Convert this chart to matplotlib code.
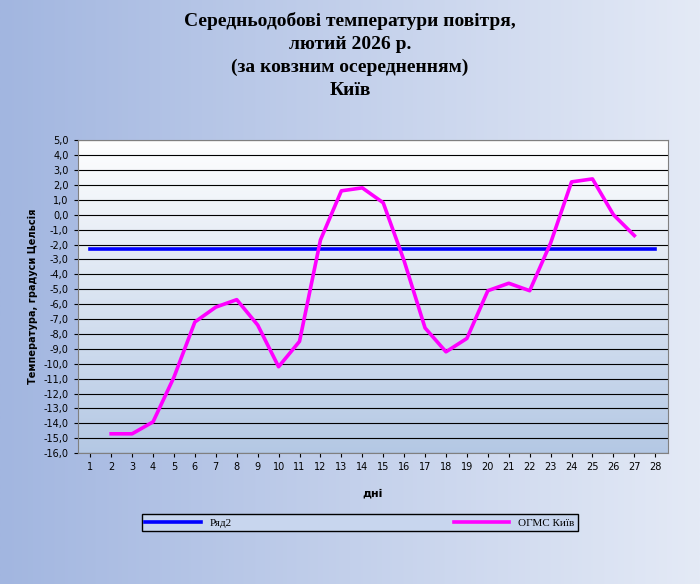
import numpy as np
import matplotlib
matplotlib.use("Agg")
import matplotlib.pyplot as plt
from matplotlib.colors import LinearSegmentedColormap

plt.rcParams['font.family'] = ['Liberation Serif', 'DejaVu Serif']

days = list(range(1, 29))
ryad2 = [-2.3] * 28
kyiv_days = list(range(2, 28))
kyiv = [-14.7, -14.7, -13.9, -10.9, -7.2, -6.2, -5.7, -7.4, -10.2, -8.5,
        -1.7, 1.6, 1.8, 0.8, -3.1, -7.6, -9.2, -8.3, -5.1, -4.6,
        -5.1, -1.9, 2.2, 2.4, 0.0, -1.4]
yticks = np.arange(-16, 5.01, 1.0)

fig = plt.figure(figsize=(7, 5.84), dpi=100)

# background gradient
bg = fig.add_axes([0, 0, 1, 1], zorder=-10)
grad = np.linspace(0, 1, 256).reshape(1, -1)
bg_cmap = LinearSegmentedColormap.from_list("bg", ["#a2b6e0", "#e4eaf6"])
bg.imshow(grad, aspect="auto", cmap=bg_cmap, extent=[0, 1, 0, 1])
bg.axis("off")

ax = fig.add_axes([0.111, 0.224, 0.843, 0.536])
pa_cmap = LinearSegmentedColormap.from_list("pa", ["#ffffff", "#b4c8e4"])
ax.imshow(np.linspace(0, 1, 256).reshape(-1, 1), aspect="auto", cmap=pa_cmap,
          extent=[0.4, 28.6, -16, 5], zorder=0)

for y in yticks:
    ax.axhline(y, color="black", linewidth=0.8, zorder=1)

ax.plot(days, ryad2, color="#0000ff", linewidth=2.6, label="Ряд2", zorder=3)
ax.plot(kyiv_days, kyiv, color="#ff00ff", linewidth=2.6, label="ОГМС Київ", zorder=3)

ax.set_xlim(0.4, 28.6)
ax.set_ylim(-16, 5)
ax.set_xticks(days)
ax.set_yticks(yticks)
ax.set_yticklabels([f"{v:.1f}".replace(".", ",") for v in yticks],
                   family="DejaVu Sans", fontsize=7)
ax.set_xticklabels(days, family="DejaVu Sans", fontsize=7)
ax.tick_params(length=3)
for s in ax.spines.values():
    s.set_color("#808080")
ax.set_xlabel("дні", family="DejaVu Sans", fontsize=8, fontweight="bold", labelpad=12)
ax.set_ylabel("Температура, градуси Цельсія", family="DejaVu Sans",
              fontsize=7, fontweight="bold")

fig.text(0.5, 0.98, "Середньодобові температури повітря,\nлютий 2026 р.\n(за ковзним осередненням)\nКиїв",
         ha="center", va="top", fontsize=14, fontweight="bold", linespacing=1.45)

fig.legend(loc="center", bbox_to_anchor=(0.514, 0.105), ncol=2,
           fontsize=8, frameon=True, fancybox=False, edgecolor="black",
           facecolor="#c8d6ee", framealpha=1, columnspacing=20,
           handlelength=5, borderpad=0.3)

fig.savefig("out.png", dpi=100)
